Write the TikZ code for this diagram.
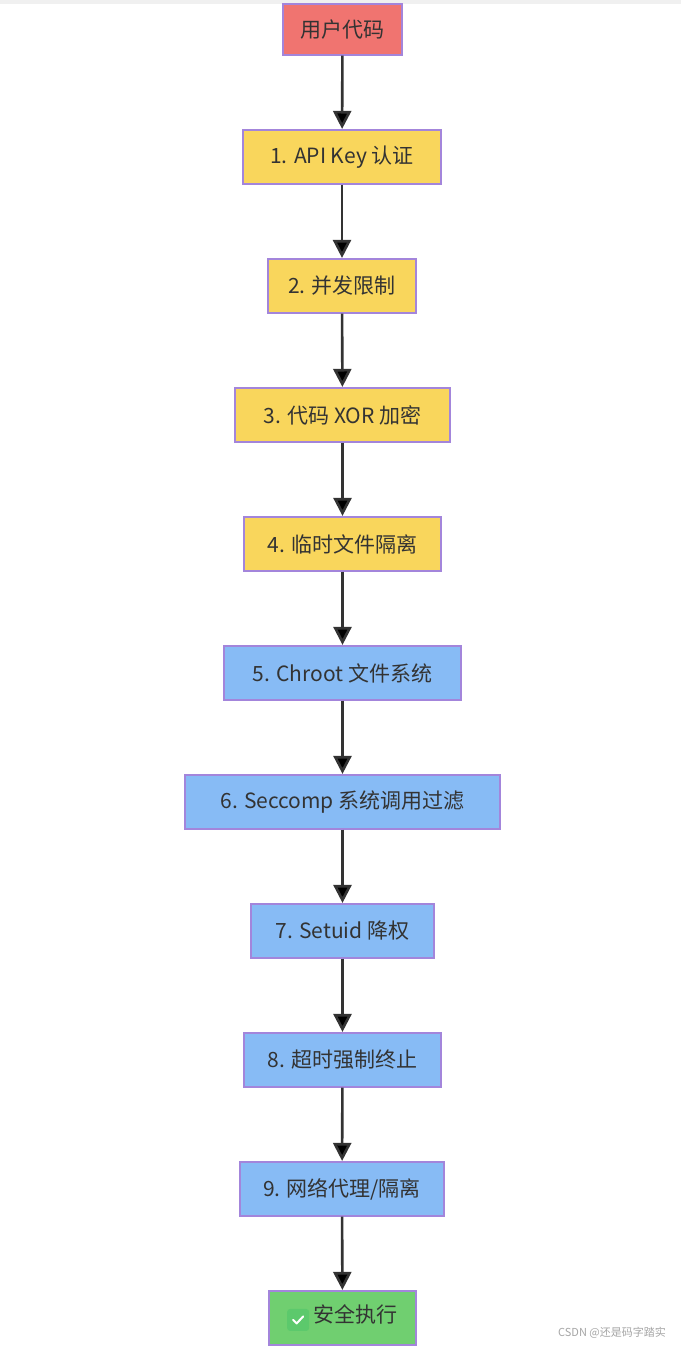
\documentclass[tikz,border=0pt]{standalone}
\usepackage{fontspec}
\setmainfont{Noto Sans CJK SC}
\usetikzlibrary{arrows.meta}
\definecolor{cred}{HTML}{F07470}
\definecolor{cyel}{HTML}{F9D65C}
\definecolor{cblu}{HTML}{87BBF5}
\definecolor{cgrn}{HTML}{70CF70}
\definecolor{cbrd}{HTML}{A385DB}
\definecolor{ctxt}{HTML}{333333}
\newcommand{\okmark}{\tikz[baseline=-3pt]{\fill[rounded corners=3pt,fill={rgb,255:red,92;green,201;blue,108}] (-11pt,-11pt) rectangle (11pt,11pt);\draw[white,line width=2pt,line cap=round,line join=round] (-5pt,0pt) -- (-1.5pt,-3.5pt) -- (5pt,3.5pt);}}
\tikzset{
  box/.style={draw=cbrd,line width=1.2pt,minimum height=54pt,inner sep=0pt,text=ctxt,font=\fontsize{21}{24}\selectfont},
  arr/.style={draw=ctxt,line width=2.6pt,-{Triangle[length=18pt,width=18pt]},shorten >=0.5pt}
}
\begin{document}
\begin{tikzpicture}[x=1pt,y=-1pt]
\useasboundingbox (0,0) rectangle (681,1347);
\fill[white] (0,0) rectangle (681,1347);
\fill[black!6] (0,0) rectangle (681,4);
\node[box,fill=cred,minimum width=119pt,minimum height=51pt] (n0) at (342.5,29.5) {用户代码};
\node[box,fill=cyel,minimum width=198pt] (n1) at (342,157) {1. API Key 认证};
\node[box,fill=cyel,minimum width=148pt] (n2) at (342,286) {2. 并发限制};
\node[box,fill=cyel,minimum width=215pt] (n3) at (342.5,415) {3. 代码 XOR 加密};
\node[box,fill=cyel,minimum width=197pt] (n4) at (342.5,544) {4. 临时文件隔离};
\node[box,fill=cblu,minimum width=237pt] (n5) at (342.5,673) {5. Chroot 文件系统};
\node[box,fill=cblu,minimum width=315pt] (n6) at (342.5,802) {6. Seccomp 系统调用过滤};
\node[box,fill=cblu,minimum width=183pt] (n7) at (342.5,931) {7. Setuid 降权};
\node[box,fill=cblu,minimum width=197pt] (n8) at (342.5,1060) {8. 超时强制终止};
\node[box,fill=cblu,minimum width=204pt] (n9) at (342,1189) {9. 网络代理/隔离};
\node[box,fill=cgrn,minimum width=147pt] (n10) at (342.5,1318) {\okmark\ 安全执行};
\foreach \a/\b in {n0/n1,n1/n2,n2/n3,n3/n4,n4/n5,n5/n6,n6/n7,n7/n8,n8/n9,n9/n10}
  \draw[arr] (\a) -- (\b);
\node[text=black!35,font=\fontsize{11}{12}\selectfont,inner sep=0pt] (wm) at (612,1333) {CSDN @还是码字踏实};
\end{tikzpicture}
\end{document}
